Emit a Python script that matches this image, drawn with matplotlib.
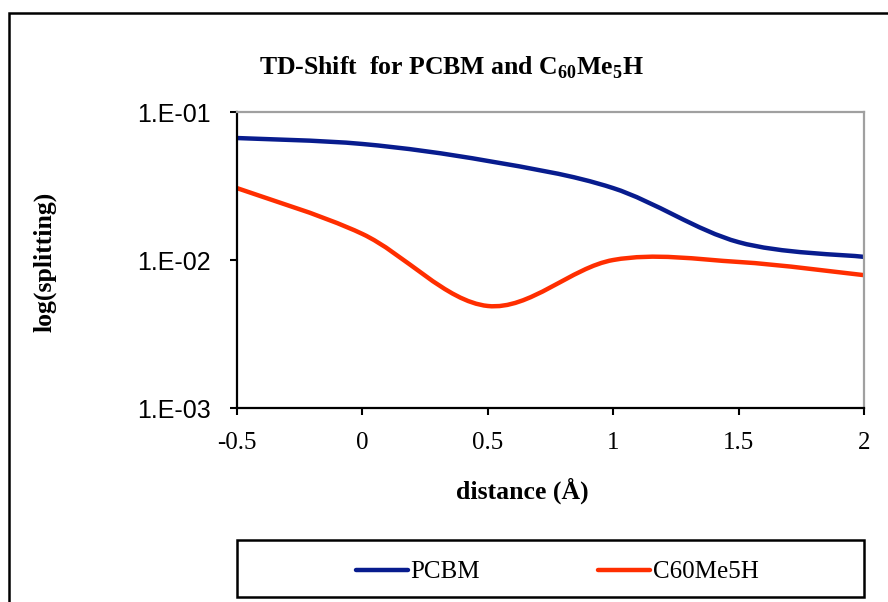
import matplotlib
matplotlib.use("Agg")
import matplotlib.pyplot as plt
import numpy as np
from matplotlib.path import Path
from matplotlib.patches import PathPatch, Rectangle
from matplotlib.lines import Line2D

# data
distance = [-0.5, 0.0, 0.5, 1.0, 1.5, 2.0]
pcbm = [0.0667, 0.0608, 0.0467, 0.0306, 0.0132, 0.0105]
c60me5h = [0.0306, 0.0150, 0.00489, 0.0100, 0.0097, 0.0079]
x_ticks = [-0.5, 0, 0.5, 1, 1.5, 2]
x_ticklabels = ["-0.5", "0", "0.5", "1", "1.5", "2"]
y_ticks = [1e-3, 1e-2, 1e-1]
y_ticklabels = ["1.E-03", "1.E-02", "1.E-01"]

BLUE = "#081C8E"
RED = "#FF2E00"

plt.rcParams["mathtext.fontset"] = "custom"
plt.rcParams["mathtext.bf"] = "Liberation Serif:bold"
plt.rcParams["mathtext.rm"] = "Liberation Serif:bold"


def smooth_path(xs, ys):
    """Excel-style smoothed line: cubic Bezier through the points (in x / log y)."""
    px = np.asarray(xs, float)
    py = np.log10(ys)
    n = len(px)
    verts = [(px[0], py[0])]
    codes = [Path.MOVETO]
    for i in range(n - 1):
        i0 = max(i - 1, 0)
        i3 = min(i + 2, n - 1)
        c1 = (px[i] + (px[i + 1] - px[i0]) / 6, py[i] + (py[i + 1] - py[i0]) / 6)
        c2 = (px[i + 1] - (px[i3] - px[i]) / 6, py[i + 1] - (py[i3] - py[i]) / 6)
        verts += [c1, c2, (px[i + 1], py[i + 1])]
        codes += [Path.CURVE4] * 3
    verts = [(vx, 10 ** vy) for vx, vy in verts]
    return Path(verts, codes)


fig = plt.figure(figsize=(8.88, 6.02), dpi=100)
ax = fig.add_axes([237 / 888, 1 - 408 / 602, (864 - 237) / 888, (408 - 112) / 602])

ax.set_yscale("log")
ax.set_xlim(-0.5, 2)
ax.set_ylim(1e-3, 1e-1)

for ys, col in [(pcbm, BLUE), (c60me5h, RED)]:
    ax.add_patch(PathPatch(smooth_path(distance, ys), facecolor="none",
                           edgecolor=col, lw=3.2, capstyle="round"))

ax.set_xticks(x_ticks)
ax.set_xticklabels(x_ticklabels, fontfamily="Liberation Serif", fontsize=18)
ax.set_yticks(y_ticks)
ax.set_yticklabels(y_ticklabels, fontfamily="Liberation Sans", fontsize=18)
ax.yaxis.set_minor_locator(matplotlib.ticker.NullLocator())
ax.tick_params(axis="both", direction="out", length=5, width=1.5, color="black")
ax.tick_params(axis="x", pad=12.5)
ax.tick_params(axis="y", pad=14)

for side in ["left", "bottom"]:
    ax.spines[side].set_color("black")
    ax.spines[side].set_linewidth(1.6)
for side in ["top", "right"]:
    ax.spines[side].set_color("#A0A0A0")
    ax.spines[side].set_linewidth(1.6)

fig.text(451 / 888, 1 - 68 / 602,
         r"TD-Shift  for PCBM and C$_{\mathbf{60}}$Me$_{\mathbf{5}}$H",
         ha="center", va="center", fontfamily="Liberation Serif",
         fontweight="bold", fontsize=18.5)
fig.text(45 / 888, 1 - 262 / 602, "log(splitting)", rotation=90,
         ha="center", va="center", fontfamily="Liberation Serif",
         fontweight="bold", fontsize=18.5)
fig.text(522 / 888, 1 - 491 / 602, "distance (Å)", ha="center", va="center",
         fontfamily="Liberation Serif", fontweight="bold", fontsize=18.5)

# outer chart frame
fig.add_artist(Rectangle((9 / 888, -0.05), 1.0, 1 - 13 / 602 + 0.05,
                         transform=fig.transFigure, fill=False,
                         edgecolor="black", lw=1.8, clip_on=False))
# legend frame
fig.add_artist(Rectangle((237 / 888, 1 - 597 / 602), (864 - 237) / 888,
                         (597 - 540) / 602, transform=fig.transFigure,
                         fill=False, edgecolor="black", lw=1.8))

handles = [Line2D([], [], color=BLUE, lw=3.2, solid_capstyle="round"),
           Line2D([], [], color=RED, lw=3.2, solid_capstyle="round")]
fig.legend(handles, ["PCBM", "C60Me5H"], loc="center",
           bbox_to_anchor=(557 / 888, 1 - 572 / 602), ncol=2, frameon=False,
           prop={"family": "Liberation Serif", "size": 18},
           handlelength=2.1, handletextpad=0.1, columnspacing=4.7)

fig.savefig("out.png", dpi=100)
